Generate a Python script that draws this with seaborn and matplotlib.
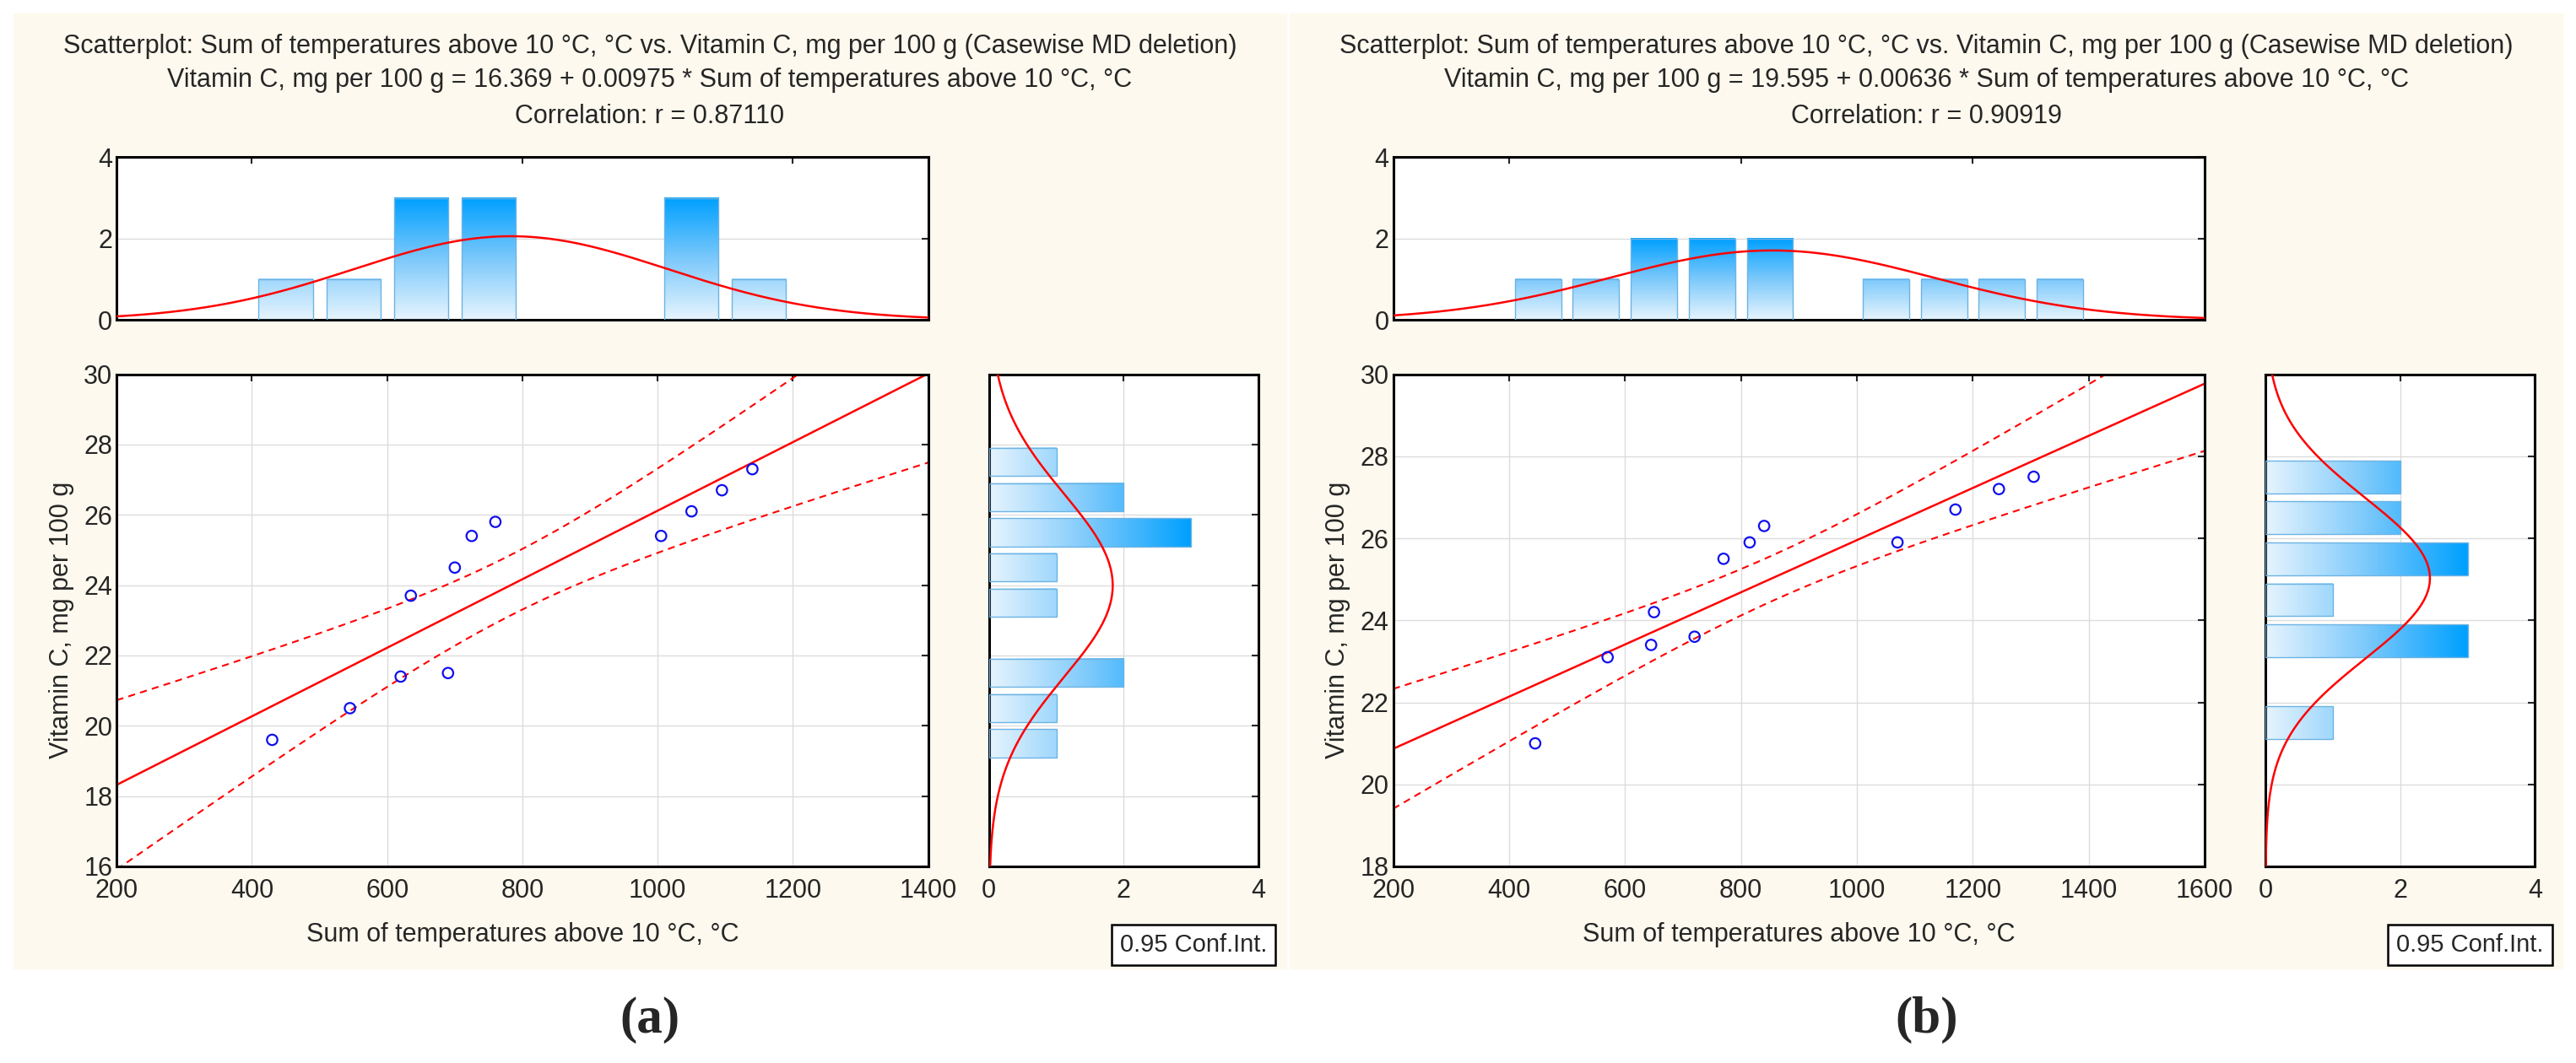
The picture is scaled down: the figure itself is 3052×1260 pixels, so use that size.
import numpy as np
import seaborn as sns
import matplotlib.pyplot as plt
from matplotlib.colors import LinearSegmentedColormap
from matplotlib.patches import Rectangle

# panel (a)
temp_a = [430, 545, 620, 690, 635, 700, 725, 760, 1005, 1050, 1095, 1140]
vitc_a = [19.6, 20.5, 21.4, 21.5, 23.7, 24.5, 25.4, 25.8, 25.4, 26.1, 26.7, 27.3]
coef_a = (16.369, 0.00975)
r_a = "0.87110"
# panel (b)
temp_b = [445, 570, 645, 650, 720, 770, 815, 840, 1070, 1170, 1245, 1305]
vitc_b = [21.0, 23.1, 23.4, 24.2, 23.6, 25.5, 25.9, 26.3, 25.9, 26.7, 27.2, 27.5]
coef_b = (19.595, 0.00636)
r_b = "0.90919"

sns.set_style("white")
plt.rcParams['font.family'] = ['Liberation Sans', 'DejaVu Sans']
FS = 22
grad = LinearSegmentedColormap.from_list("g", ["#e6f4fe", "#7cc9fb", "#00a0ff"])
cream = "#fdf9ee"

fig = plt.figure(figsize=(30.52, 12.6), dpi=100)
W = H = 1568.0


def box(x0, x1, y0, y1):
    return [x0 / W, 1 - y1 / H, (x1 - x0) / W, (y1 - y0) / H]


def frame(ax):
    for s in ax.spines.values():
        s.set_linewidth(2.2)
        s.set_color("black")
    ax.grid(True, color="#dcdcdc", lw=1)
    ax.tick_params(labelsize=FS, direction="in", length=6, width=1.5,
                   top=True, right=True, labeltop=False, labelright=False)


def gbars(ax, lows, counts, width, vmax, horizontal=False):
    for lo, c in zip(lows, counts):
        if c == 0:
            continue
        a, b = lo + 0.1 * width, lo + 0.9 * width
        g = np.linspace(0, c / vmax, 100)
        if horizontal:
            ax.imshow(g[None, :], extent=[0, c, a, b], cmap=grad, vmin=0, vmax=1,
                      aspect="auto", origin="lower", zorder=2)
            ax.add_patch(Rectangle((0, a), c, b - a, fill=False, ec="#6db3e3", lw=1, zorder=3))
        else:
            ax.imshow(g[:, None], extent=[a, b, 0, c], cmap=grad, vmin=0, vmax=1,
                      aspect="auto", origin="lower", zorder=2)
            ax.add_patch(Rectangle((a, 0), b - a, c, fill=False, ec="#6db3e3", lw=1, zorder=3))


def panel(x, y, coef, r, off, xmax, ylo, yticks, letter):
    x = np.array(x, float)
    y = np.array(y, float)
    n = len(x)
    fig.patches.append(Rectangle(((8 + off) / W, 1 - 1428 / H), 775 / W, 1408 / H,
                                 transform=fig.transFigure, color=cream, zorder=-5))
    cx = (8 + off + 783 + off) / 2 / W
    fig.text(cx, 1 - 68 / H, "Scatterplot: Sum of temperatures above 10 °C, °C vs. Vitamin C, mg per 100 g (Casewise MD deletion)",
             ha="center", va="center", fontsize=FS)
    fig.text(cx, 1 - 118 / H, f"Vitamin C, mg per 100 g = {coef[0]:.3f} + {coef[1]:.5f} * Sum of temperatures above 10 °C, °C",
             ha="center", va="center", fontsize=FS)
    fig.text(cx, 1 - 172 / H, f"Correlation: r = {r}", ha="center", va="center", fontsize=FS)

    # scatter
    ax = fig.add_axes(box(71 + off, 565 + off, 552, 1278))
    ax.set_facecolor("white")
    xs = np.linspace(200, xmax, 200)
    pred = coef[0] + coef[1] * xs
    res = y - (coef[0] + coef[1] * x)
    s = np.sqrt(np.sum(res ** 2) / (n - 2))
    se = s * np.sqrt(1 / n + (xs - x.mean()) ** 2 / np.sum((x - x.mean()) ** 2))
    t = 2.228
    sns.lineplot(x=xs, y=pred, color="red", lw=1.8, ax=ax)
    sns.lineplot(x=xs, y=pred + t * se, color="red", lw=1.5, ls=(0, (4, 3)), ax=ax)
    sns.lineplot(x=xs, y=pred - t * se, color="red", lw=1.5, ls=(0, (4, 3)), ax=ax)
    sns.scatterplot(x=x, y=y, marker="o", s=80, facecolor="none", edgecolor="#1010ee",
                    linewidth=1.6, ax=ax, zorder=5)
    ax.set_xlim(200, xmax)
    ax.set_ylim(ylo, 30)
    ax.set_xticks(np.arange(200, xmax + 1, 200))
    ax.set_yticks(yticks)
    frame(ax)
    ax.tick_params(axis="x", pad=10)
    ax.set_xlabel("Sum of temperatures above 10 °C, °C", fontsize=FS, labelpad=16)
    ax.set_ylabel("Vitamin C, mg per 100 g", fontsize=FS, labelpad=8)

    # top histogram
    axt = fig.add_axes(box(71 + off, 565 + off, 232, 472))
    xb = np.arange(400, 1500, 100)
    cnt, _ = np.histogram(x, bins=np.append(xb, 1500))
    gbars(axt, xb, cnt, 100, cnt.max())
    sd = x.std(ddof=1)
    pdf = n * 100 * np.exp(-0.5 * ((xs - x.mean()) / sd) ** 2) / (sd * np.sqrt(2 * np.pi))
    sns.lineplot(x=xs, y=pdf, color="red", lw=1.8, ax=axt, zorder=4)
    axt.set_xlim(200, xmax)
    axt.set_ylim(0, 4)
    axt.set_yticks([0, 2, 4])
    axt.set_xticks(np.arange(400, xmax, 400))
    frame(axt)
    axt.tick_params(axis="x", labelbottom=False)
    axt.grid(False, axis="x")

    # side histogram
    axr = fig.add_axes(box(602 + off, 766 + off, 552, 1278))
    yb = np.arange(ylo, 30, 1)
    cy, _ = np.histogram(y, bins=np.append(yb, 30))
    gbars(axr, yb, cy, 1, cy.max(), horizontal=True)
    ys = np.linspace(ylo, 30, 200)
    sdy = y.std(ddof=1)
    pdfy = n * np.exp(-0.5 * ((ys - y.mean()) / sdy) ** 2) / (sdy * np.sqrt(2 * np.pi))
    sns.lineplot(x=pdfy, y=ys, color="red", lw=1.8, ax=axr, sort=False, orient="y", zorder=4)
    axr.set_xlim(0, 4)
    axr.set_ylim(ylo, 30)
    axr.set_xticks([0, 2, 4])
    axr.set_yticks(yticks)
    frame(axr)
    axr.tick_params(axis="y", labelleft=False)
    axr.tick_params(axis="x", pad=10)

    fig.text((672 + off + 781 + off) / 2 / W, 1 - 1394 / H, "0.95 Conf.Int.", ha="center", va="center",
             fontsize=FS - 1, bbox=dict(boxstyle="square,pad=0.35", fc="white", ec="black", lw=1.8))
    fig.text(cx, 1 - 1505 / H, letter, ha="center", va="center", fontsize=44,
             family="Liberation Serif", fontweight="bold")


panel(temp_a, vitc_a, coef_a, r_a, 0, 1400, 16, np.arange(16, 31, 2), "(a)")
panel(temp_b, vitc_b, coef_b, r_b, 777, 1600, 18, np.arange(18, 31, 2), "(b)")

fig.savefig("out.png", dpi=100, facecolor="white")
